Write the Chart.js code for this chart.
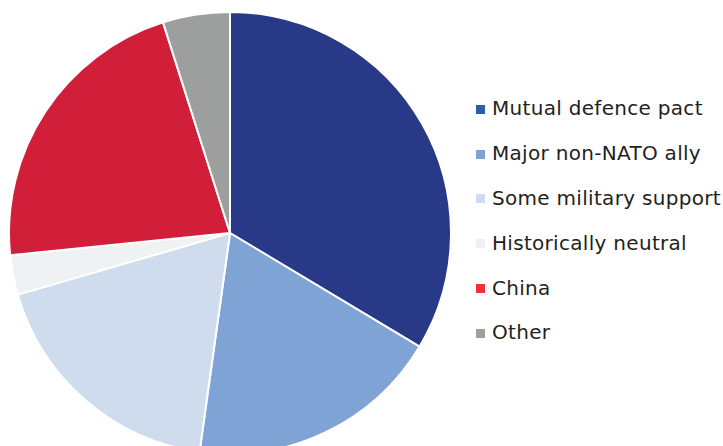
<!DOCTYPE html>
<html>
<head>
<meta charset="utf-8">
<script src="https://cdn.jsdelivr.net/npm/chart.js@4"></script>
<style>
  html, body { margin: 0; padding: 0; background: #fff; overflow: hidden; }
  body { width: 723px; height: 446px; position: relative; }
  #pie-wrap { position: absolute; left: 8px; top: 11px; width: 444px; height: 444px; }
  #legend { position: absolute; left: 476px; top: 86px; margin: 0; padding: 0; list-style: none;
            font-family: "DejaVu Sans", sans-serif; font-size: 20px; letter-spacing: 0.3px; color: #231f20; }
  #legend li { height: 44.8px; display: flex; align-items: center; white-space: nowrap; }
  #legend li span { display: inline-block; width: 9px; height: 9px; margin-right: 7px; position: relative; top: 1px; }
</style>
</head>
<body>
<div id="pie-wrap"><canvas id="pie"></canvas></div>
<ul id="legend"></ul>
<script>
// categories and shares (percent), clockwise from 12 o'clock
var labels = ["Mutual defence pact", "Major non-NATO ally", "Some military support",
              "Historically neutral", "China", "Other"];
var shares = [33.6, 18.6, 18.3, 2.9, 21.7, 4.9];
// slice colours and (slightly different) legend swatch colours
var sliceColors = ["#283a87", "#7fa3d4", "#cfdcee", "#eff1f3", "#d11f3a", "#9d9e9e"];
var legendColors = ["#2a5ea8", "#7da2d3", "#cddcee", "#eef0f2", "#e8343a", "#9e9e9e"];

new Chart("pie", {
  type: "pie",
  data: {
    labels: labels,
    datasets: [{
      data: shares,
      backgroundColor: sliceColors,
      borderColor: "#ffffff",
      borderWidth: 2
    }]
  },
  options: {
    responsive: true,
    maintainAspectRatio: false,
    animation: false,
    layout: { padding: 0 },
    plugins: {
      legend: { display: false },
      tooltip: { enabled: false }
    }
  }
});

// build the legend list from the same arrays
var ul = document.getElementById("legend");
labels.forEach(function(name, i) {
  var li = document.createElement("li");
  var box = document.createElement("span");
  box.style.background = legendColors[i];
  li.appendChild(box);
  li.appendChild(document.createTextNode(name));
  ul.appendChild(li);
});
</script>
</body>
</html>
